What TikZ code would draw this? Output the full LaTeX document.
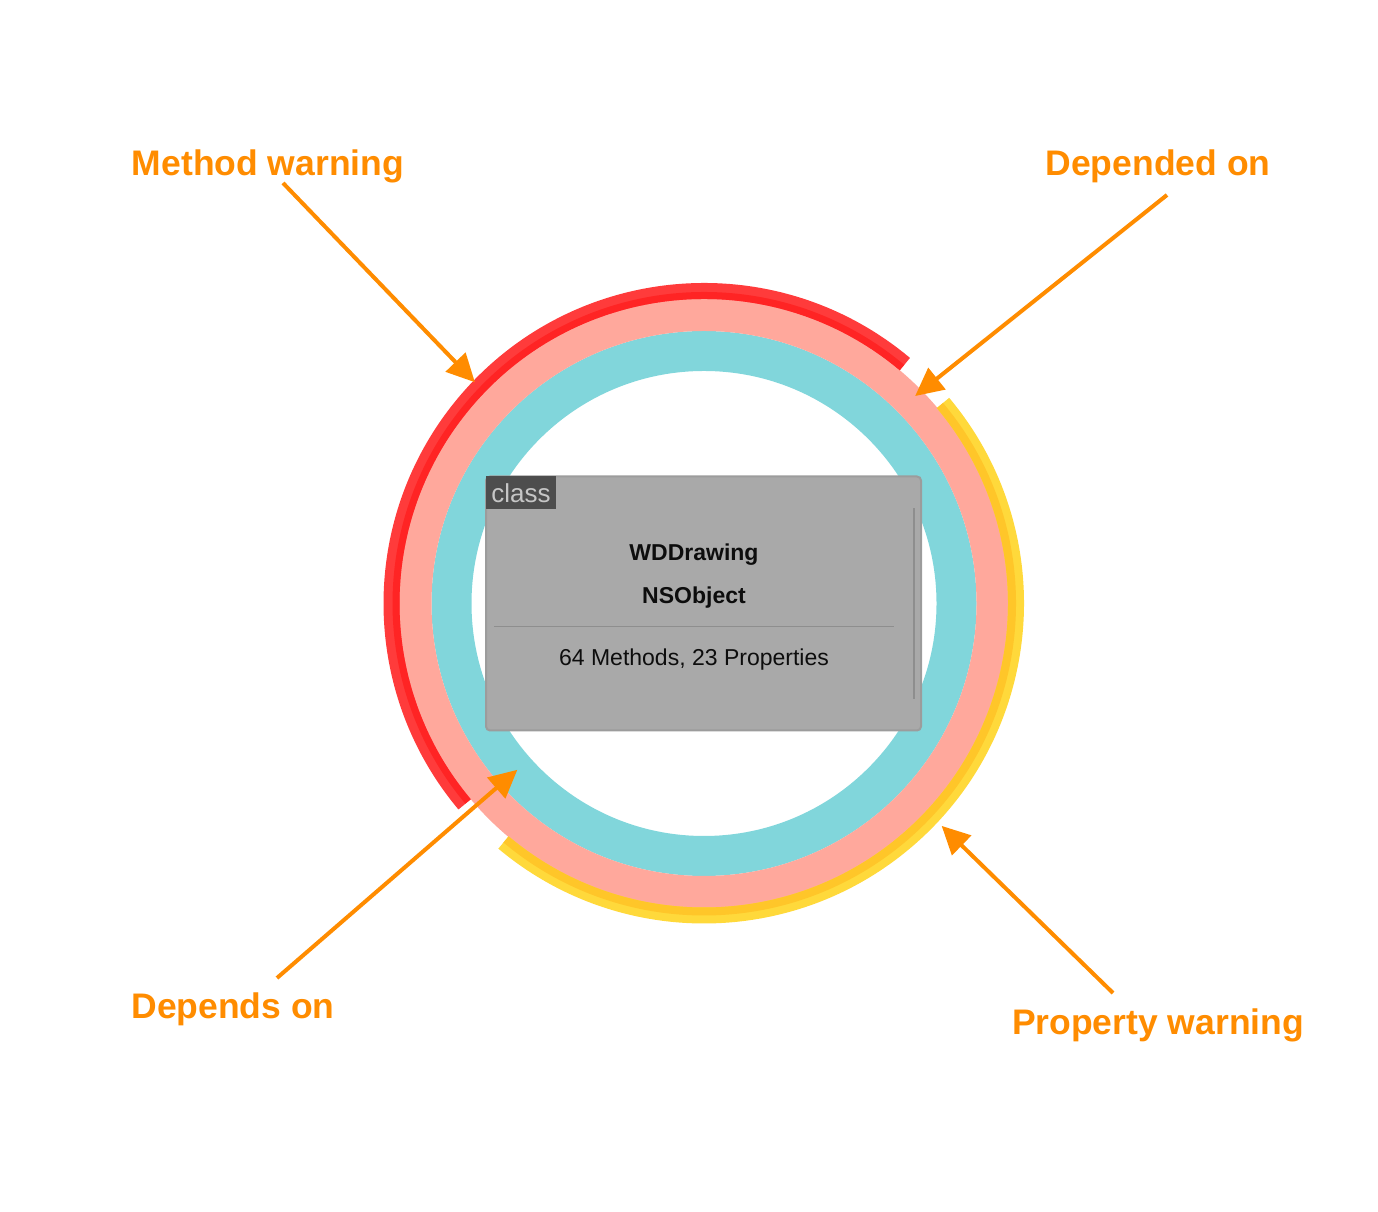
\documentclass[tikz,border=0pt]{standalone}
\usepackage{fontspec}
\setmainfont{Liberation Sans}
\usetikzlibrary{calc,arrows.meta}

\definecolor{ringcyan}{HTML}{81D6DB}
\definecolor{ringsalmon}{HTML}{FFA89C}
\definecolor{warnred}{HTML}{FF3B3B}
\definecolor{warnreddark}{HTML}{FF2424}
\definecolor{warnyellow}{HTML}{FFD93B}
\definecolor{warnyellowdark}{HTML}{FFC629}
\definecolor{callout}{HTML}{FF8C00}
\definecolor{cardgray}{HTML}{A9A9A9}
\definecolor{cardedge}{HTML}{9C9C9C}
\definecolor{cardline}{HTML}{8E8E8E}
\definecolor{taggray}{HTML}{4D4D4D}
\definecolor{tagtext}{HTML}{C6C6C6}

\tikzset{
  callout label/.style={text=callout, font=\fontsize{35.5}{40}\selectfont\bfseries},
  callout arrow/.style={draw=callout, line width=4pt, -{Triangle[length=28pt,width=27pt]}},
  card text/.style={text=black!95, font=\fontsize{23}{27}\selectfont}
}

\begin{document}
\begin{tikzpicture}[x=1pt, y=1pt, inner sep=0pt, outer sep=0pt]
    \useasboundingbox (0,0) rectangle (1378,1212);
    \coordinate (c) at (704,608.5);

    % rings
    \draw[ringcyan, line width=40pt] (c) circle[radius=252.5pt];
    \draw[ringsalmon, line width=32pt] (c) circle[radius=288.5pt];

    % warning arcs
    \draw[warnred, line width=16pt] ([shift={(50:312.5pt)}]c)
        arc[start angle=50, end angle=220, radius=312.5pt];
    \draw[warnreddark, line width=7pt] ([shift={(50:308pt)}]c)
        arc[start angle=50, end angle=220, radius=308pt];
    \draw[warnyellow, line width=16pt] ([shift={(40:312pt)}]c)
        arc[start angle=40, end angle=-130, radius=312pt];
    \draw[warnyellowdark, line width=8pt] ([shift={(40:308pt)}]c)
        arc[start angle=40, end angle=-130, radius=308pt];

    % card
    \node[fill=cardgray, draw=cardedge, line width=2pt, rounded corners=4pt,
          minimum width=435pt, minimum height=254pt] (card) at (703.5,608.5) {};
    \node[fill=taggray, anchor=north west, minimum width=70pt, minimum height=33pt,
          text=tagtext, font=\fontsize{26}{30}\selectfont] (card_tag)
    at (card.north west) {class};
    \node[card text, anchor=base, font=\fontsize{23}{27}\selectfont\bfseries] (card_name)
    at (694,651) {WDDrawing};
    \node[card text, anchor=base, font=\fontsize{23}{27}\selectfont\bfseries] (card_super)
    at (694,608) {NSObject};
    \node[card text, anchor=base] (card_count) at (694,546) {64 Methods, 23 Properties};
    \draw[cardline, line width=1.2pt] ($(card.west) + (8pt,-23pt)$) -- ($(card.east) + (-27pt,-23pt)$);
    \draw[cardline, line width=2pt] ($(card.north east) + (-7pt,-32pt)$) -- ($(card.south east) + (-7pt,31pt)$);

    % callouts
    \node[callout label, anchor=base] (method_warn) at (268,1036) {Method warning};
    \node[callout label, anchor=base] (depended_on) at (1158,1036) {Depended on};
    \node[callout label, anchor=base] (depends_on) at (233,193) {Depends on};
    \node[callout label, anchor=base] (property_warn) at (1158,177) {Property warning};

    \coordinate (method_warn_tip) at ($(c) + (136:318.5pt)$);
    \coordinate (depended_on_tip) at ($(c) + (44.5:296pt)$);
    \coordinate (depends_on_tip) at ($(c) + (221.7:250pt)$);
    \coordinate (property_warn_tip) at ($(c) + (-43.1:325.5pt)$);

    \draw[callout arrow] ($(method_warn.base) + (15pt,-7pt)$) -- (method_warn_tip);
    \draw[callout arrow] ($(depended_on.base) + (9pt,-19pt)$) -- (depended_on_tip);
    \draw[callout arrow] ($(depends_on.base) + (44pt,41pt)$) -- (depends_on_tip);
    \draw[callout arrow] ($(property_warn.base) + (-45pt,42pt)$) -- (property_warn_tip);
\end{tikzpicture}
\end{document}
